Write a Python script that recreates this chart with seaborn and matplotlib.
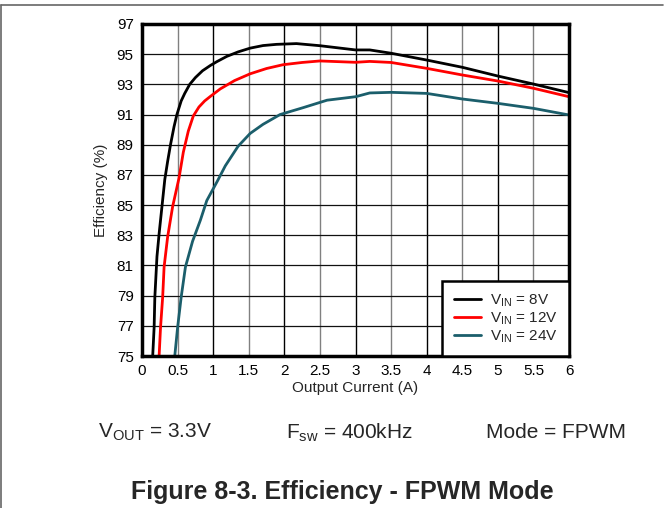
import numpy as np
import pandas as pd
import matplotlib
matplotlib.use("Agg")
import matplotlib.pyplot as plt
import seaborn as sns
from matplotlib.lines import Line2D

# Data
i_8v = [0.15, 0.17, 0.18, 0.21, 0.24, 0.28, 0.32, 0.36, 0.40, 0.45, 0.49, 0.55, 0.60, 0.67, 0.75,
        0.85, 0.96, 1.05, 1.19, 1.35, 1.52, 1.70, 1.89, 2.17, 2.5, 3.0, 3.2, 3.5, 4.0, 4.5, 5.0,
        5.5, 6.0]
eff_8v = [75.0, 76.9, 78.9, 81.6, 83.1, 84.9, 86.7, 87.9, 89.0, 90.2, 91.0, 91.9, 92.4, 93.0, 93.45,
          93.9, 94.25, 94.5, 94.85, 95.15, 95.4, 95.57, 95.65, 95.7, 95.56, 95.28, 95.28, 95.06,
          94.61, 94.13, 93.55, 93.02, 92.45]

i_12v = [0.24, 0.26, 0.29, 0.31, 0.36, 0.43, 0.52, 0.58, 0.65, 0.72, 0.80, 0.88, 0.96, 1.10,
         1.30, 1.52, 1.75, 1.98, 2.25, 2.5, 3.0, 3.2, 3.5, 4.0, 4.5, 5.0, 5.5, 6.0]
eff_12v = [75.0, 76.9, 78.9, 80.9, 82.9, 84.9, 86.8, 88.5, 89.9, 90.9, 91.5, 91.9, 92.2, 92.7,
           93.25, 93.7, 94.05, 94.3, 94.45, 94.55, 94.46, 94.52, 94.45, 94.06, 93.62, 93.22,
           92.74, 92.18]

i_24v = [0.46, 0.50, 0.55, 0.61, 0.71, 0.82, 0.91, 1.06, 1.17, 1.35, 1.52, 1.70, 1.94, 2.26,
         2.6, 3.0, 3.2, 3.5, 4.0, 4.5, 5.0, 5.5, 6.0]
eff_24v = [75.0, 76.9, 78.9, 80.9, 82.6, 84.0, 85.3, 86.6, 87.6, 88.9, 89.75, 90.35, 91.0, 91.45,
           91.95, 92.18, 92.43, 92.47, 92.4, 92.03, 91.74, 91.41, 90.97]

series_names = ["8V", "12V", "24V"]
colors = ["#000000", "#ff0000", "#1b5e6b"]
x_ticks = [0, 0.5, 1, 1.5, 2, 2.5, 3, 3.5, 4, 4.5, 5, 5.5, 6]
x_tick_labels = ["0", "0.5", "1", "1.5", "2", "2.5", "3", "3.5", "4", "4.5", "5", "5.5", "6"]
y_ticks = list(range(75, 98, 2))

df = pd.concat([
    pd.DataFrame({"current": i_8v, "eff": eff_8v, "vin": "8V"}),
    pd.DataFrame({"current": i_12v, "eff": eff_12v, "vin": "12V"}),
    pd.DataFrame({"current": i_24v, "eff": eff_24v, "vin": "24V"}),
])

sns.set_style("white")
plt.rcParams["font.family"] = ["Liberation Sans", "DejaVu Sans"]
plt.rcParams["mathtext.fontset"] = "custom"
plt.rcParams["mathtext.rm"] = "Liberation Sans"
plt.rcParams["mathtext.it"] = "Liberation Sans:italic"

fig = plt.figure(figsize=(6.64, 5.08), dpi=100)
ax = fig.add_axes([0.2139, 0.2992, 0.857 - 0.2139, 0.9528 - 0.2992])

sns.lineplot(data=df, x="current", y="eff", hue="vin", hue_order=series_names,
             palette=colors, sort=False, estimator=None, linewidth=2, legend=False, ax=ax)

ax.set_xlim(0, 6)
ax.set_ylim(75, 97)
ax.set_xticks(x_ticks)
ax.set_xticklabels(x_tick_labels)
ax.set_yticks(y_ticks)
ax.tick_params(length=0, labelsize=11, pad=6, colors="black")

# grid: integer amps black, half amps gray
for xv in x_ticks[1:-1]:
    ax.axvline(xv, color="black" if float(xv).is_integer() else "#808080", lw=1, zorder=0)
for yv in y_ticks[1:-1]:
    ax.axhline(yv, color="#111111", lw=0.9, zorder=0)

for sp in ax.spines.values():
    sp.set_visible(True)
    sp.set_color("black")
    sp.set_linewidth(2.5)

ax.set_xlabel("Output Current (A)", fontsize=11, labelpad=2)
ax.set_ylabel("Efficiency (%)", fontsize=11, labelpad=6)

handles = [Line2D([0], [0], color=c, lw=2) for c in colors]
labels = [r"V$_{\mathrm{IN}}$ = " + n for n in series_names]
leg = ax.legend(handles, labels, loc="lower right", fontsize=11, frameon=True, fancybox=False,
                borderaxespad=0, handlelength=1.8, labelspacing=0.1, borderpad=0.75,
                handletextpad=0.55)
leg.get_frame().set_edgecolor("black")
leg.get_frame().set_linewidth(1.8)
leg.get_frame().set_alpha(1)

fig.text(0.233, 0.148, r"V$_{\mathrm{OUT}}$ = 3.3V", fontsize=15, ha="center", va="center")
fig.text(0.527, 0.148, r"F$_{\mathrm{sw}}$ = 400kHz", fontsize=15, ha="center", va="center")
fig.text(0.837, 0.148, "Mode = FPWM", fontsize=15, ha="center", va="center")
fig.text(0.515, 0.031, "Figure 8-3. Efficiency - FPWM Mode", fontsize=18, fontweight="bold",
         ha="center", va="center")

# outer frame (top and left edges)
fig.add_artist(Line2D([0.0015, 0.9985], [0.990, 0.990], color="#666666", lw=1.2, transform=fig.transFigure))
fig.add_artist(Line2D([0.0015, 0.0015], [0.0, 0.990], color="#666666", lw=1.2, transform=fig.transFigure))

fig.savefig("out.png", dpi=100)
